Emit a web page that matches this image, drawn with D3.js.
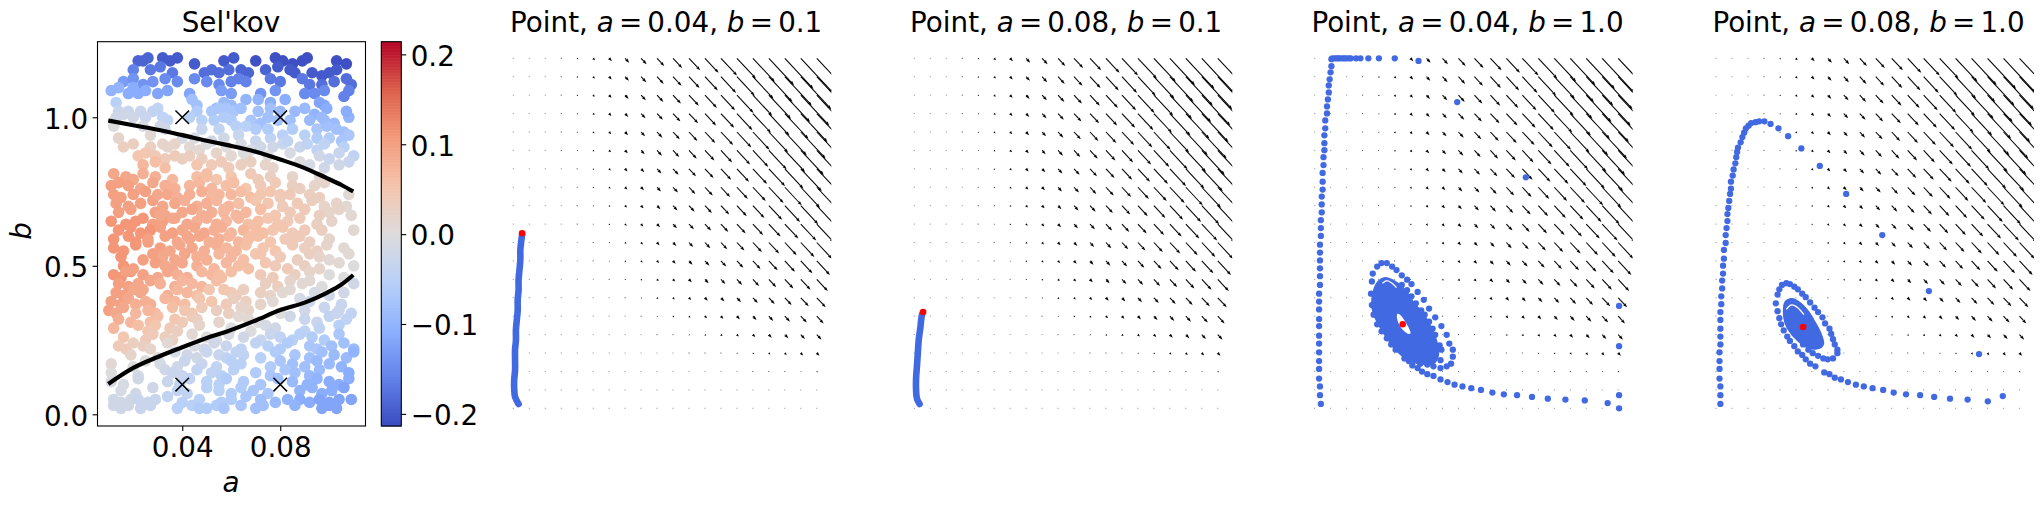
<!DOCTYPE html>
<html><head><meta charset="utf-8">
<script src="https://cdn.jsdelivr.net/npm/d3@7"></script>
<style>html,body{margin:0;padding:0;background:#fff}svg{display:block}text{font-family:"DejaVu Sans",sans-serif;fill:#000}</style>
</head><body><svg id="c" width="2044" height="507"></svg>
<script>
// ---- Scatter (a in 1e-3, b in 0.01, value in 0.01), grouped in horizontal bands
const scatterA=[
[22,24,26,32,35,38,45,57,61,70,78,81,85,89,91,103,107],
[20,27,31,36,49,52,55,59,64,67,74,84,86,93,97,100,103,79],
[16,20,24,28,33,38,45,50,55,60,63,66,76,80,89,92,97,102,107,109],
[11,14,18,22,25,30,34,43,56,60,72,78,90,94,98,106,108],
[13,44,46,57,60,66,71,76,82,96,98,54],
[14,18,23,28,30,46,52,55,58,61,64,71,76,80,86,90,94,99],
[13,16,20,25,32,34,43,48,53,57,60,68,72,75,79,84,92,98,102,108],
[12,24,31,33,48,55,62,66,70,85,95,99,103,106],
[14,27,40,45,52,57,63,70,76,81,90,95,100,105,108],
[16,20,27,32,34,37,43,47,50,58,64,68,72,77,81,88,91,95,98,106],
[22,25,29,33,37,43,48,54,60,66,75,84,96,100,104,110],
[24,29,33,46,52,56,59,64,68,74,77,88,92,98,104,108],
[12,17,20,24,29,36,46,50,54,60,68,71,76,85,96],
[11,14,18,23,28,33,37,43,47,52,58,61,66,72,78,85,88,94,98],
[12,15,20,25,34,38,43,48,52,55,60,64,68,72,76,80,84,92,96,108],
[13,18,23,28,32,37,41,46,50,54,59,63,70,75,81,87,93,98,103,107],
[14,19,29,33,40,44,48,52,57,62,66,72,78,84,90,96,100,104,109],
[11,17,21,24,28,32,37,42,46,50,54,58,63,67,71,75,79,83,88,101],
[14,19,23,27,31,36,40,45,49,53,56,60,65,70,73,77,81,85,90,97,110],
[12,18,21,26,33,38,43,47,51,55,59,63,67,71,76,82,88,92,100],
[12,16,21,31,35,39,44,49,54,58,62,66,73,78,85,90,95,99,106],
[15,24,28,32,37,41,46,50,55,60,65,72,80,87,92,96,100,108],
[16,20,29,33,36,40,46,53,58,63,67,74,78,83,90,96,104,110],
[12,15,19,24,30,34,38,42,48,52,56,60,72,77,86,92,100,106],
[14,18,27,31,37,40,44,48,54,74,79,84,89,97,110],
[13,16,20,23,34,38,42,46,51,60,62,65,72,76,81,84,94,100,106],
[11,15,18,25,27,33,37,41,47,52,58,61,66,72,77,88,92,105],
[10,13,16,26,29,36,41,44,48,54,59,64,67,80,90,98,104,109],
[14,27,30,37,40,44,46,55,63,67,71,84,90,95,100,107],
[12,26,29,35,38,47,60,68,74,78,90,96,104],
[16,25,28,33,36,44,50,54,59,65,72,76,80,85,88,93,98,104],
[14,17,20,24,27,34,45,49,53,58,64,70,75,80,83,92,95,101,106,110],
[19,30,37,42,46,50,55,58,62,65,72,78,86,92,97,102,107,110],
[11,20,25,31,38,41,48,54,60,64,76,80,85,90,95,100,105],
[11,22,33,36,40,46,52,56,61,70,76,82,86,92,96,108],
[11,16,22,34,39,43,50,55,58,65,72,79,85,91,95,100,104,108],
[15,21,28,38,42,50,55,60,64,69,75,88,93,97,101,106],
[12,15,19,22,26,29,34,40,47,56,60,66,72,78,83,88,92,96,100,104,109],
[12,15,18,23,27,38,44,47,50,54,57,64,70,73,86,97,100,103],
[22,21,21,19,22,24,17,30,36,42,55,57,70,85,92,103,26,31,57,68,80,95,40,50,65,75,83,97,107,20]];
const scatterB=[
[119,119,120,120,119,120,118,119,120,119,120,119,118,119,120,119,118],
[116,116,117,115,115,116,115,116,116,115,116,116,115,115,114,115,116,117],
[112,113,111,112,113,112,113,112,111,112,113,112,113,112,113,111,111,112,113,111],
[109,110,108,108,109,108,109,108,109,108,108,109,108,108,109,107,109],
[105,106,104,105,104,106,106,105,106,105,104,103],
[102,102,102,102,103,102,102,103,103,102,103,102,103,102,102,103,101,103],
[100,101,100,100,100,99,100,99,99,100,99,99,98,100,99,99,99,99,98,100],
[97,97,97,96,96,96,97,97,96,96,96,97,96,95],
[93,94,93,93,92,93,94,92,93,94,94,93,93,92,94],
[90,91,90,91,90,91,90,89,91,90,91,89,90,90,91,90,91,89,91,90],
[87,88,87,86,87,87,86,88,87,87,87,88,87,86,88,87],
[84,85,83,84,84,85,83,84,85,84,83,85,84,83,84,85],
[81,80,79,81,80,79,80,81,79,80,81,79,80,80,80],
[77,78,77,76,78,77,76,77,78,76,77,78,76,77,78,77,76,77,78],
[74,73,74,75,74,73,74,75,73,74,74,75,73,74,75,73,74,74,73,74],
[71,70,71,72,70,71,72,70,71,72,70,71,72,71,70,71,72,70,71,70],
[68,69,68,67,68,69,67,68,69,67,68,69,67,68,69,67,68,69,67],
[65,64,65,66,64,65,66,64,65,66,64,65,66,64,65,66,64,65,66,65],
[62,63,61,62,63,61,62,63,61,62,63,61,62,63,61,62,63,61,62,62,62],
[59,60,58,59,60,58,59,60,58,59,60,58,59,60,58,59,60,58,59],
[56,55,57,56,55,57,56,55,57,56,55,57,56,55,57,56,55,57,56],
[53,52,54,53,52,54,53,52,54,53,52,54,53,52,54,53,52,54],
[50,49,51,50,49,51,50,49,51,50,49,51,50,49,50,49,51,50],
[47,46,48,47,46,48,47,46,48,47,46,48,47,46,47,48,47,46],
[44,43,45,44,43,45,44,43,45,44,43,45,44,43,44],
[41,40,42,41,40,42,41,40,42,41,40,42,41,40,41,42,41,40,41],
[38,37,39,38,37,39,38,37,39,38,37,39,38,37,38,39,38,37],
[35,34,36,35,34,36,35,34,36,35,34,36,35,34,35,36,35,34],
[32,31,33,32,31,33,32,31,33,32,31,33,32,31,33,32],
[29,28,30,29,28,30,29,28,30,29,28,29,30],
[26,25,27,26,25,27,26,25,27,26,25,27,26,25,27,26,25,27],
[23,22,24,23,22,24,23,22,24,23,22,24,23,22,24,23,22,23,24,22],
[20,19,21,20,19,21,20,19,21,20,19,21,20,19,21,20,19,21],
[17,16,18,17,16,18,17,16,18,17,16,18,17,16,18,17,16],
[14,13,15,14,13,15,14,13,15,14,13,15,14,13,15,14],
[11,10,12,11,10,12,11,10,12,11,10,12,11,10,12,11,10,12],
[8,7,9,8,7,9,8,7,9,8,7,8,9,7,8,9],
[5,4,5,5,4,5,6,4,5,4,5,6,5,4,5,5,4,5,4,5,5],
[3,2,3,2,3,2,3,2,2,3,2,3,2,3,3,2,3,2],
[44,37,34,31,30,42,48,74,66,60,47,42,54,58,45,34,58,67,68,60,74,64,86,80,88,96,92,100,102,110]];
const scatterV=[
[-19,-19,-19,-20,-20,-20,-20,-20,-20,-21,-21,-21,-21,-21,-21,-21,-21],
[-16,-17,-17,-17,-18,-18,-18,-18,-19,-19,-19,-20,-20,-20,-20,-20,-20,-20],
[-13,-14,-14,-14,-15,-15,-15,-15,-15,-16,-16,-16,-17,-17,-17,-17,-18,-18,-18,-18],
[-10,-10,-11,-11,-11,-12,-12,-12,-13,-13,-14,-14,-15,-15,-15,-16,-16],
[-5,-8,-8,-9,-9,-10,-10,-11,-11,-12,-12,-9],
[-3,-3,-3,-4,-4,-6,-7,-7,-7,-7,-8,-8,-8,-9,-9,-9,-10,-11],
[-2,-2,-2,-3,-4,-4,-5,-5,-6,-6,-6,-7,-8,-8,-8,-8,-9,-9,-9,-10],
[0,-1,-2,-2,-3,-4,-5,-5,-6,-6,-7,-8,-8,-8],
[2,1,-1,-1,-2,-2,-3,-3,-4,-5,-5,-6,-6,-7,-7],
[3,3,3,2,2,2,1,1,0,0,-1,-1,-2,-2,-3,-3,-4,-4,-4,-5],
[5,5,4,4,4,3,3,2,1,1,0,-1,-2,-3,-3,-4],
[7,6,6,5,4,4,4,3,3,2,2,0,-1,-2,-2,-3],
[9,9,9,8,8,7,6,6,5,5,4,4,3,2,1],
[10,10,10,9,9,8,8,7,7,7,6,6,5,4,4,3,3,2,2],
[10,10,10,10,9,8,8,8,7,7,7,6,6,5,5,4,4,3,3,1],
[10,10,10,10,9,9,8,8,8,7,7,6,5,5,4,4,3,2,2,1],
[10,10,10,9,9,9,8,8,7,7,7,6,5,4,4,3,2,2,1],
[11,11,11,11,10,10,9,9,8,8,8,7,7,6,6,5,5,4,4,2],
[11,11,11,11,10,10,9,9,9,8,8,7,7,6,6,5,5,4,4,3,1],
[11,11,11,10,10,9,9,9,8,8,7,7,6,6,5,4,4,3,2],
[11,11,11,10,9,9,9,8,8,7,7,6,5,5,4,3,3,2,1],
[11,10,10,9,9,9,8,8,7,7,6,5,4,3,3,2,1,1],
[11,10,10,9,9,9,8,7,7,6,6,5,4,4,3,2,1,0],
[11,11,10,10,9,9,8,8,7,7,6,6,4,4,3,2,0,0],
[10,10,9,8,8,7,7,7,6,3,3,2,1,0,-2],
[10,10,9,9,8,7,7,6,5,4,4,3,3,2,1,1,-1,-2,-2],
[10,10,9,8,8,7,7,6,5,5,4,3,3,2,1,-1,-2,-3],
[10,9,9,7,7,6,5,5,4,3,3,2,2,0,-2,-3,-3,-4],
[8,6,6,5,4,4,3,2,1,1,0,-2,-3,-3,-4,-4],
[7,5,5,4,3,2,0,0,-1,-2,-4,-4,-5],
[5,4,4,3,3,1,0,-1,-1,-2,-3,-3,-4,-5,-5,-6,-6,-7],
[4,4,3,3,2,1,-1,-2,-2,-3,-4,-4,-5,-6,-6,-7,-7,-8,-8,-9],
[2,1,-1,-2,-2,-3,-3,-4,-4,-4,-5,-6,-7,-8,-8,-9,-9,-10],
[1,0,0,-1,-2,-3,-3,-4,-5,-5,-6,-7,-8,-8,-9,-9,-10],
[0,-1,-2,-3,-3,-4,-4,-5,-5,-6,-7,-7,-8,-9,-9,-11],
[-1,-1,-2,-3,-4,-4,-5,-5,-6,-6,-7,-8,-9,-10,-10,-11,-11,-11],
[-1,-2,-2,-4,-4,-5,-5,-6,-6,-7,-7,-10,-10,-11,-11,-12],
[-2,-2,-2,-3,-3,-3,-4,-5,-5,-6,-6,-7,-8,-9,-10,-11,-11,-12,-12,-12,-12],
[-2,-2,-2,-3,-3,-5,-5,-6,-6,-6,-7,-7,-8,-8,-10,-12,-12,-12],
[9,8,7,7,6,9,10,9,9,9,6,5,5,4,1,-3,10,9,7,6,4,3,3,6,0,-6,-4,-9,-11,-11]];
// ---- bifurcation curves
const upperA=[.0098,.02,.03,.04,.05,.058,.07,.08,.09,.099,.105,.1098];
const upperB=[.989,.973,.958,.940,.921,.907,.884,.858,.829,.795,.772,.750];
const lowerA=[.0098,.02,.03,.04,.05,.058,.07,.08,.09,.099,.105,.1098];
const lowerB=[.102,.156,.193,.2255,.257,.278,.316,.351,.376,.409,.437,.469];
const markA=[.04,.08,.04,.08], markB=[1,1,.1,.1];
const xTicks=[.04,.08], yTicks=[0,.5,1], cbTicks=[-.2,-.1,0,.1,.2];
const coolwarm=["#3b4cc0","#6282ea","#8db0fe","#b8d0f9","#dddcdc","#f5c4ac","#f49a7b","#dc5f4b","#b40426"];
// ---- quiver speeds, top row first, left column first
const fieldSpeed=[
[0,.1,.1,.4,1.0,1.8,2.8,4.1,5.5,7.2,9.1,11.2,13.6,16.1,18.9,21.9,25.1,28.6,32.3,36.1],
[0,.1,.1,.4,.9,1.7,2.6,3.8,5.1,6.7,8.5,10.5,12.8,15.1,17.8,20.6,23.6,26.9,30.4,34.0],
[0,.1,.1,.3,.8,1.5,2.4,3.5,4.8,6.3,7.9,9.8,11.9,14.1,16.6,19.3,22.1,25.2,28.5,31.9],
[0,.1,.1,.3,.7,1.4,2.2,3.2,4.4,5.8,7.4,9.1,11.1,13.2,15.5,18.0,20.6,23.6,26.7,29.8],
[0,.1,.1,.2,.6,1.2,2.0,3.0,4.0,5.3,6.8,8.4,10.3,12.2,14.4,16.7,19.2,21.9,24.8,27.7],
[0,.1,.1,.2,.5,1.1,1.8,2.7,3.6,4.9,6.2,7.7,9.4,11.2,13.2,15.4,17.7,20.2,22.9,25.6],
[0,.1,.1,.1,.4,.9,1.5,2.4,3.3,4.4,5.6,7.0,8.6,10.2,12.1,14.1,16.2,18.5,21.0,23.5],
[0,.1,.1,.1,.3,.8,1.3,2.1,2.9,3.9,5.0,6.3,7.8,9.2,10.9,12.8,14.7,16.9,19.1,21.4],
[0,.1,.1,.1,.3,.6,1.1,1.8,2.5,3.4,4.5,5.6,6.9,8.3,9.8,11.5,13.2,15.2,17.3,19.3],
[0,.1,.1,.1,.2,.5,.9,1.5,2.2,3.0,3.9,4.9,6.1,7.3,8.7,10.2,11.7,13.5,15.4,17.2],
[0,.1,.1,.1,.1,.3,.7,1.2,1.8,2.5,3.3,4.2,5.3,6.3,7.5,8.9,10.3,11.8,13.5,15.2],
[0,.1,.1,.1,.1,.2,.5,.9,1.4,2.0,2.7,3.5,4.4,5.3,6.4,7.6,8.8,10.2,11.6,13.1],
[0,.1,.1,.1,.1,.1,.3,.7,1.1,1.6,2.1,2.8,3.6,4.4,5.2,6.2,7.3,8.5,9.7,11.0],
[0,.1,.1,.1,.1,.1,.1,.4,.7,1.1,1.6,2.1,2.8,3.4,4.1,4.9,5.8,6.8,7.9,8.9],
[0,.1,.1,.1,.1,.1,.1,.1,.3,.6,1.0,1.4,1.9,2.4,3.0,3.6,4.4,5.1,6.0,6.8],
[0,.1,.1,.1,.1,.1,.1,.1,.1,.2,.4,.7,1.1,1.4,1.8,2.3,2.9,3.5,4.1,4.7],
[0,.1,.1,.1,.1,.1,.1,.1,.1,.1,.1,.2,.3,.4,.7,1.0,1.4,1.8,2.2,2.6],
[0,.1,.1,.1,.1,.1,.1,.1,.1,.1,.1,.1,.1,.1,.1,.3,.3,.4,.5,.8],
[0,.1,.1,.1,.1,.1,.1,.1,.1,.1,.1,.1,.1,.1,.1,.1,.1,.1,.1,.1],
[0,.1,.1,.1,.1,.1,.1,.1,.1,.1,.1,.1,.1,.1,.1,.1,.1,.1,.1,.1]];
// ---- trajectories (phase-plane x, y)
const t1X=[.06,.02,.01,.01,.02,.02,.02,.03,.03,.04,.05,.05,.06,.06,.07,.08,.08,.09,.10];
const t1Y=[.05,.13,.23,.32,.44,.55,.67,.78,.90,1.01,1.12,1.24,1.35,1.47,1.58,1.70,1.81,1.91,1.98];
const t2X=[.06,.03,.02,.02,.03,.04,.05,.07,.08,.09];
const t2Y=[.05,.11,.21,.34,.48,.63,.78,.93,1.03,1.08];
const t3X=[.07,.06,.06,.05,.05,.05,.05,.05,.05,.05,.05,.05,.05,.05,.06,.06,.06,.06,.06,.06,.07,.07,.07,.08,.08,.08,.09,.09,.09,.10,.10,.11,.11,.11,.12,.12,.14,.14,.15,.16,.16,.17,.18,.19,.19,.20,.23,.25,.27,.29,.32,.34,.36,.39,.41,.47,.52,.61,.73,.91,1.18,1.62,2.40,3.46,3.46,3.46,3.46,3.33,3.07,2.85,2.65,2.47,2.30,2.15,2.02,1.89,1.78,1.68,1.59,1.51,1.43,1.35,1.28,1.22,1.17,1.11,1.07,1.02,.92,.87,.82,.76,.71,.67,.65,.64,.65,.66,.71,.76,.82,.88,.93,.99,1.05,1.10,1.17,1.24,1.30,1.37,1.44,1.50,1.53,1.57,1.57,1.55,1.50,1.43,1.35,1.28,1.20,1.43,1.44,1.42,1.37,1.34,1.30,1.25,1.21,1.15,1.10,1.05,.99];
const t3Y=[.05,.15,.25,.34,.45,.54,.64,.74,.83,.94,1.02,1.13,1.22,1.31,1.41,1.51,1.60,1.69,1.78,1.87,1.97,2.06,2.15,2.24,2.33,2.42,2.50,2.59,2.69,2.78,2.87,2.95,3.03,3.12,3.20,3.29,3.37,3.45,3.53,3.61,3.69,3.76,3.84,3.91,3.99,4,4,4,4,4,4,4,4,4,4,4,4,4,4,4,3.97,3.50,2.64,1.17,.71,.15,0,.06,.09,.10,.11,.13,.15,.16,.18,.21,.23,.25,.27,.30,.33,.37,.39,.42,.46,.49,.54,.57,.67,.73,.80,.88,.96,1.07,1.18,1.31,1.45,1.54,1.62,1.66,1.66,1.62,1.58,1.52,1.47,1.42,1.33,1.24,1.14,1.04,.94,.84,.74,.67,.59,.51,.48,.46,.48,.50,.51,.55,.67,.72,.84,.91,.99,1.07,1.12,1.20,1.28,1.35,1.41];
const t4X=[.05,.05,.05,.04,.04,.04,.04,.05,.05,.05,.05,.05,.06,.06,.07,.07,.08,.08,.09,.09,.11,.11,.12,.13,.13,.14,.15,.16,.17,.17,.19,.20,.22,.23,.24,.25,.28,.30,.32,.34,.37,.40,.45,.49,.55,.62,.71,.82,.97,1.18,1.48,1.89,2.42,2.99,3.26,3.09,2.86,2.66,2.48,2.32,2.16,2.02,1.90,1.78,1.68,1.59,1.50,1.42,1.35,1.29,1.23,1.13,1.07,1.02,.98,.93,.89,.84,.81,.77,.74,.72,.70,.68,.70,.72,.75,.80,.84,.89,.93,.98,1.02,1.07,1.12,1.16,1.21,1.24,1.29,1.31,1.33,1.35,1.38,1.38,1.33,1.27,1.22,1.16,1.10,1.05,.99];
const t4Y=[.05,.15,.25,.34,.45,.54,.64,.73,.82,.91,1.01,1.10,1.19,1.28,1.37,1.46,1.54,1.63,1.71,1.81,1.89,1.98,2.06,2.14,2.22,2.29,2.37,2.45,2.51,2.59,2.66,2.73,2.80,2.87,2.93,2.98,3.04,3.10,3.15,3.20,3.23,3.26,3.27,3.28,3.28,3.25,3.20,3.11,2.97,2.77,2.45,1.98,1.34,.62,.14,.08,.10,.11,.13,.15,.16,.18,.21,.23,.25,.27,.30,.33,.35,.39,.41,.48,.51,.56,.61,.65,.71,.77,.82,.89,.96,1.03,1.11,1.20,1.30,1.36,1.41,1.43,1.42,1.39,1.36,1.31,1.27,1.21,1.15,1.10,1.04,.97,.91,.85,.79,.73,.67,.63,.57,.56,.57,.60,.63,.67,.73];
// settled spiral cores: outer outline, the hole round the fixed point, thin unfilled arcs
const core3X=[.65,.71,.80,.93,1.05,1.14,1.24,1.31,1.37,1.41,1.41,1.35,1.20,1.05,.91,.80,.71,.65];
const core3Y=[1.30,1.45,1.50,1.45,1.34,1.20,1.09,.97,.84,.70,.59,.50,.50,.55,.67,.82,.97,1.12];
const hole3X=[.94,.97,1.03,1.09,1.07,.99,.94];
const hole3Y=[1.08,1.07,.99,.86,.85,.91,1.01];
const arc3X=[.77,.82,.88,.93], arc3Y=[1.43,1.46,1.43,1.38];
const core4X=[.76,.78,.86,.95,1.05,1.12,1.19,1.23,1.20,1.10,1.01,.91,.84,.78];
const core4Y=[1.10,1.22,1.26,1.22,1.12,1.01,.88,.74,.69,.67,.70,.78,.86,.97];
const arc4X=[.80,.85,.90,.95,1.0], arc4Y=[1.13,1.18,1.17,1.13,1.07];
const titles=[["0.04","0.1"],["0.08","0.1"],["0.04","1.0"],["0.08","1.0"]];
const fixedX=[.10,.10,1.0,.99], fixedY=[2.0,1.10,.96,.93];
const panelLefts=[513.3,914.3,1314.7,1716], titleCenters=[666.2,1066.2,1467.5,1868.5];
const trajectories=[
 {x:t1X,y:t1Y,thick:true},{x:t2X,y:t2Y,thick:true},
 {x:t3X,y:t3Y,coreX:core3X,coreY:core3Y,holeX:hole3X,holeY:hole3Y,arcX:arc3X,arcY:arc3Y},
 {x:t4X,y:t4Y,coreX:core4X,coreY:core4Y,arcX:arc4X,arcY:arc4Y}];

const FS=27.78, svg=d3.select("#c");
// ---------- left panel
const L=97.5,R=365.5,T=41.7,B=426;
const xA=d3.scaleLinear([.0054,.1148],[L,R]), yB=d3.scaleLinear([-.0394,1.2545],[B,T]);
const cbV=d3.scaleLinear([-.2135,.2141],[426,41.7]);
const cmap=d3.scaleLinear().domain(coolwarm.map((_,i)=>i/8)).range(coolwarm).interpolate(d3.interpolateRgb);
const vColor=v=>cmap((v+.2135)/.4276);
const aF=scatterA.flat(),bF=scatterB.flat(),vF=scatterV.flat();
const g0=svg.append("g");
g0.append("rect").attr("x",L).attr("y",T).attr("width",R-L).attr("height",B-T).attr("fill","#fff");
g0.selectAll("circle").data(d3.range(aF.length)).join("circle")
 .attr("cx",i=>xA(aF[i]/1000)).attr("cy",i=>yB(bF[i]/100)).attr("r",5.8).attr("fill",i=>vColor(vF[i]/100));
const ln=d3.line().x(d=>xA(d[0])).y(d=>yB(d[1])).curve(d3.curveMonotoneX);
[[upperA,upperB],[lowerA,lowerB]].forEach(([a,b])=>g0.append("path").attr("d",ln(d3.zip(a,b))).attr("fill","none").attr("stroke","#000").attr("stroke-width",4.2));
g0.selectAll("path.m").data(markA.map((a,i)=>[a,markB[i]])).join("path").attr("class","m")
 .attr("transform",d=>`translate(${xA(d[0])},${yB(d[1])})`)
 .attr("d","M-6.8,-6.8L6.8,6.8M-6.8,6.8L6.8,-6.8").attr("stroke","#000").attr("stroke-width",1.5).attr("fill","none");
g0.append("rect").attr("x",L).attr("y",T).attr("width",R-L).attr("height",B-T).attr("fill","none").attr("stroke","#000").attr("stroke-width",1.1);
function styleAxis(g){g.select(".domain").remove();g.selectAll(".tick line").attr("stroke","#000").attr("stroke-width",1.1);
 g.selectAll(".tick text").attr("font-size",FS).attr("font-family","DejaVu Sans").attr("fill","#000");}
function sideDy(g){g.selectAll(".tick text").attr("dy","0.39em");}
svg.append("g").attr("transform",`translate(0,${B})`).call(d3.axisBottom(xA).tickValues(xTicks).tickFormat(d3.format(".2f")).tickSize(4.9).tickPadding(6)).call(styleAxis);
svg.append("g").attr("transform",`translate(${L},0)`).call(d3.axisLeft(yB).tickValues(yTicks).tickFormat(d3.format(".1f")).tickSize(4.9).tickPadding(4.5)).call(styleAxis).call(sideDy);
svg.append("text").attr("x",231).attr("y",32.3).attr("text-anchor","middle").attr("font-size",FS).text("Sel'kov");
svg.append("text").attr("x",231).attr("y",491.7).attr("text-anchor","middle").attr("font-size",FS).attr("font-style","italic").text("a");
svg.append("text").attr("transform","translate(31,231) rotate(-90)").attr("text-anchor","middle").attr("font-size",FS).attr("font-style","italic").text("b");
// ---------- colour bar
const CL=381.3,CR=401.3;
const cbSteps=d3.range(0,256);
svg.append("g").selectAll("rect").data(cbSteps).join("rect")
 .attr("x",CL).attr("width",CR-CL)
 .attr("y",i=>cbV(-.2135+(i+1)/256*.4276)).attr("height",(B-T)/256+.6)
 .attr("fill",i=>cmap((i+.5)/256));
svg.append("rect").attr("x",CL).attr("y",T).attr("width",CR-CL).attr("height",B-T).attr("fill","none").attr("stroke","#000").attr("stroke-width",1.1);
svg.append("g").attr("transform",`translate(${CR},0)`).call(d3.axisRight(cbV).tickValues(cbTicks).tickFormat(d=>d3.format(".1f")(d).replace("-","\u2212")).tickSize(4.9).tickPadding(4.5)).call(styleAxis).call(sideDy);
// ---------- phase-plane panels
const TOP=58.3,BOT=408.3,GW=303.5,XMAX=3.45,YMAX=4;
const dense=d3.line().curve(d3.curveCatmullRom);
const closed=d3.line().curve(d3.curveCatmullRomClosed);
panelLefts.forEach((x0,pi)=>{
 const x=d3.scaleLinear([0,XMAX],[x0,x0+GW]), y=d3.scaleLinear([0,YMAX],[BOT,TOP]);
 const g=svg.append("g");
 const cid="clip"+pi;
 svg.append("clipPath").attr("id",cid).append("rect").attr("x",x0-6).attr("y",TOP-3).attr("width",GW+20.5).attr("height",BOT-TOP+8);
 const q=g.append("g").attr("clip-path",`url(#${cid})`);
 fieldSpeed.forEach((row,ri)=>row.forEach((s,ci)=>{
  const px=x(ci*XMAX/19), py=y((19-ri)*YMAX/19);
  if(s<.5){q.append("rect").attr("x",px-.5).attr("y",py-.5).attr("width",1).attr("height",1).attr("fill",s<.2?"#8a8a8a":"#444");return;}
  const dx=s, dy=s*1.07, n=Math.hypot(dx,dy), ux=dx/n, uy=dy/n;
  const hl=Math.min(n,4.2), hw=Math.min(1.5,.6+n*.25), tx=px+dx, ty=py+dy, bx=tx-ux*hl, by=ty-uy*hl;
  q.append("line").attr("x1",px).attr("y1",py).attr("x2",bx).attr("y2",by).attr("stroke","#000").attr("stroke-width",1.05);
  q.append("path").attr("d",`M${tx},${ty}L${bx-uy*hw},${by+ux*hw}L${bx+uy*hw},${by-ux*hw}Z`).attr("fill","#000");
 }));
 const t=trajectories[pi];
 if(t.thick) g.append("path").attr("d",dense(t.x.map((v,i)=>[x(v),y(t.y[i])]))).attr("fill","none").attr("stroke","#4169e1").attr("stroke-width",6.6).attr("stroke-linecap","round").attr("stroke-linejoin","round");
 if(t.coreX) g.append("path").attr("d",closed(t.coreX.map((v,i)=>[x(v),y(t.coreY[i])]))).attr("fill","#4169e1");
 if(t.holeX) g.append("path").attr("d",closed(t.holeX.map((v,i)=>[x(v),y(t.holeY[i])]))).attr("fill","#fff");
 if(!t.thick) g.append("g").selectAll("circle").data(t.x.map((v,i)=>[v,t.y[i]])).join("circle").attr("cx",d=>x(d[0])).attr("cy",d=>y(d[1])).attr("r",3.15).attr("fill","#4169e1");
 if(t.arcX) g.append("path").attr("d",dense(t.arcX.map((v,i)=>[x(v),y(t.arcY[i])]))).attr("fill","none").attr("stroke","#fff").attr("stroke-width",1.3);
 g.append("circle").attr("cx",x(fixedX[pi])).attr("cy",y(fixedY[pi])).attr("r",3.3).attr("fill","#ff0000");
 const tt=svg.append("text").attr("x",titleCenters[pi]).attr("y",32.3).attr("text-anchor","middle").attr("font-size",FS);
 tt.append("tspan").text("Point, ");
 tt.append("tspan").attr("font-style","italic").text("a");
 tt.append("tspan").attr("dx",5.2).text("=");
 tt.append("tspan").attr("dx",5.2).text(`${titles[pi][0]}, `);
 tt.append("tspan").attr("font-style","italic").text("b");
 tt.append("tspan").attr("dx",5.2).text("=");
 tt.append("tspan").attr("dx",5.2).text(titles[pi][1]);
});
</script></body></html>
